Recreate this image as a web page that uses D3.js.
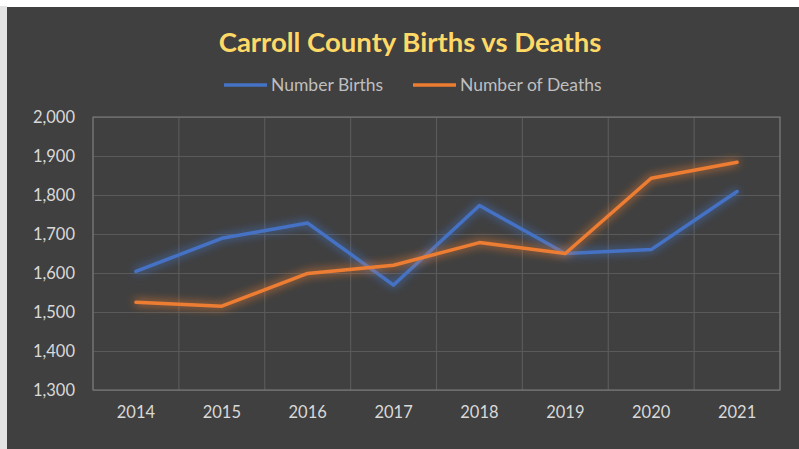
<!DOCTYPE html>
<html>
<head>
<meta charset="utf-8">
<script src="https://cdn.jsdelivr.net/npm/d3@7"></script>
<style>
  body { margin: 0; background: #ffffff; }
  #chart { width: 799px; height: 449px; }
</style>
</head>
<body>
<div id="chart"></div>
<script>
// Data
const years = [2014, 2015, 2016, 2017, 2018, 2019, 2020, 2021];
const births = [1604, 1689, 1728, 1569, 1773, 1650, 1660, 1809];
const deaths = [1525, 1515, 1599, 1620, 1678, 1650, 1843, 1884];
const seriesNames = ["Number Births", "Number of Deaths"];
const yTicks = [1300, 1400, 1500, 1600, 1700, 1800, 1900, 2000];

const width = 799, height = 449;
const margin = { top: 117, right: 19, bottom: 59, left: 93 };
const innerWidth = width - margin.left - margin.right;
const innerHeight = height - margin.top - margin.bottom;
const font = "Lato, 'Open Sans', sans-serif";

const svg = d3.select("#chart")
    .append("svg")
    .attr("width", width)
    .attr("height", height)
    .style("display", "block");

// Background: light edges then dark panel
svg.append("rect").attr("width", width).attr("height", height).attr("fill", "#ffffff");
svg.append("rect").attr("x", 0).attr("y", 6).attr("width", 7).attr("height", height - 6).attr("fill", "#e3e3e3");
svg.append("rect").attr("x", 7).attr("y", 7).attr("width", width - 7).attr("height", height - 7).attr("fill", "#404040");

// Glow filter
const defs = svg.append("defs");
const glow = defs.append("filter").attr("id", "glow")
    .attr("filterUnits", "userSpaceOnUse")
    .attr("x", -50).attr("y", -50).attr("width", width).attr("height", height);
glow.append("feGaussianBlur").attr("in", "SourceGraphic").attr("stdDeviation", 5).attr("result", "blur");
glow.append("feComponentTransfer").attr("in", "blur").attr("result", "soft")
    .append("feFuncA").attr("type", "linear").attr("slope", 1.1);
const merge = glow.append("feMerge");
merge.append("feMergeNode").attr("in", "soft");
merge.append("feMergeNode").attr("in", "SourceGraphic");

// Title
svg.append("text")
    .attr("x", 410)
    .attr("y", 52)
    .attr("text-anchor", "middle")
    .attr("font-family", font)
    .attr("font-size", 27.5)
    .attr("font-weight", "bold")
    .attr("fill", "#ffd966")
    .text("Carroll County Births vs Deaths");

// Scales
const x = d3.scaleBand()
    .domain(years)
    .range([0, innerWidth]);

const y = d3.scaleLinear()
    .domain([1300, 2000])
    .range([innerHeight, 0]);

const colors = ["#4472c4", "#ed7d31"];

const g = svg.append("g")
    .attr("transform", `translate(${margin.left},${margin.top})`);

// Horizontal gridlines
g.append("g")
    .call(d3.axisLeft(y).tickValues(yTicks).tickSize(-innerWidth).tickFormat(""))
    .call(a => a.select(".domain").remove())
    .call(a => a.selectAll("text").remove())
    .call(a => a.selectAll("line").attr("stroke", "#5a5a5a").attr("stroke-width", 1.2));

// Vertical gridlines at category boundaries
const xEdges = years.map(d => x(d)).concat([innerWidth]);
g.append("g").selectAll("line")
    .data(xEdges)
    .join("line")
    .attr("x1", d => d).attr("x2", d => d)
    .attr("y1", 0).attr("y2", innerHeight)
    .attr("stroke", "#5a5a5a")
    .attr("stroke-width", 1.2);

// Plot border
g.append("rect")
    .attr("width", innerWidth)
    .attr("height", innerHeight)
    .attr("fill", "none")
    .attr("stroke", "#7f7f7f")
    .attr("stroke-width", 1);

// Y axis labels
g.append("g")
    .call(d3.axisLeft(y).tickValues(yTicks).tickSize(0).tickPadding(18).tickFormat(d3.format(",")))
    .attr("font-family", font)
    .attr("font-size", 16.5)
    .call(a => a.select(".domain").remove())
    .call(a => a.selectAll("text").attr("fill", "#d9d9d9"));

// X axis labels
g.append("g")
    .attr("transform", `translate(0,${innerHeight})`)
    .call(d3.axisBottom(x).tickSize(0).tickPadding(16))
    .attr("font-family", font)
    .attr("font-size", 16.5)
    .call(a => a.select(".domain").remove())
    .call(a => a.selectAll("text").attr("fill", "#d9d9d9"));

// Lines
const line = d3.line()
    .x((d, i) => x(years[i]) + x.bandwidth() / 2)
    .y(d => y(d));

[births, deaths].forEach((series, i) => {
    g.append("path")
        .datum(series)
        .attr("fill", "none")
        .attr("stroke", colors[i])
        .attr("stroke-width", 3.5)
        .attr("stroke-linejoin", "round")
        .attr("stroke-linecap", "round")
        .attr("filter", "url(#glow)")
        .attr("d", line);
});

// Legend
const legendItems = [
    { name: seriesNames[0], color: colors[0], x: 224 },
    { name: seriesNames[1], color: colors[1], x: 413 }
];
const legend = svg.append("g");
legendItems.forEach(item => {
    legend.append("line")
        .attr("x1", item.x).attr("x2", item.x + 43)
        .attr("y1", 85).attr("y2", 85)
        .attr("stroke", item.color)
        .attr("stroke-width", 3.5);
    legend.append("text")
        .attr("x", item.x + 47)
        .attr("y", 91)
        .attr("font-family", font)
        .attr("font-size", 17.5)
        .attr("fill", "#bfbfbf")
        .text(item.name);
});
</script>
</body>
</html>
